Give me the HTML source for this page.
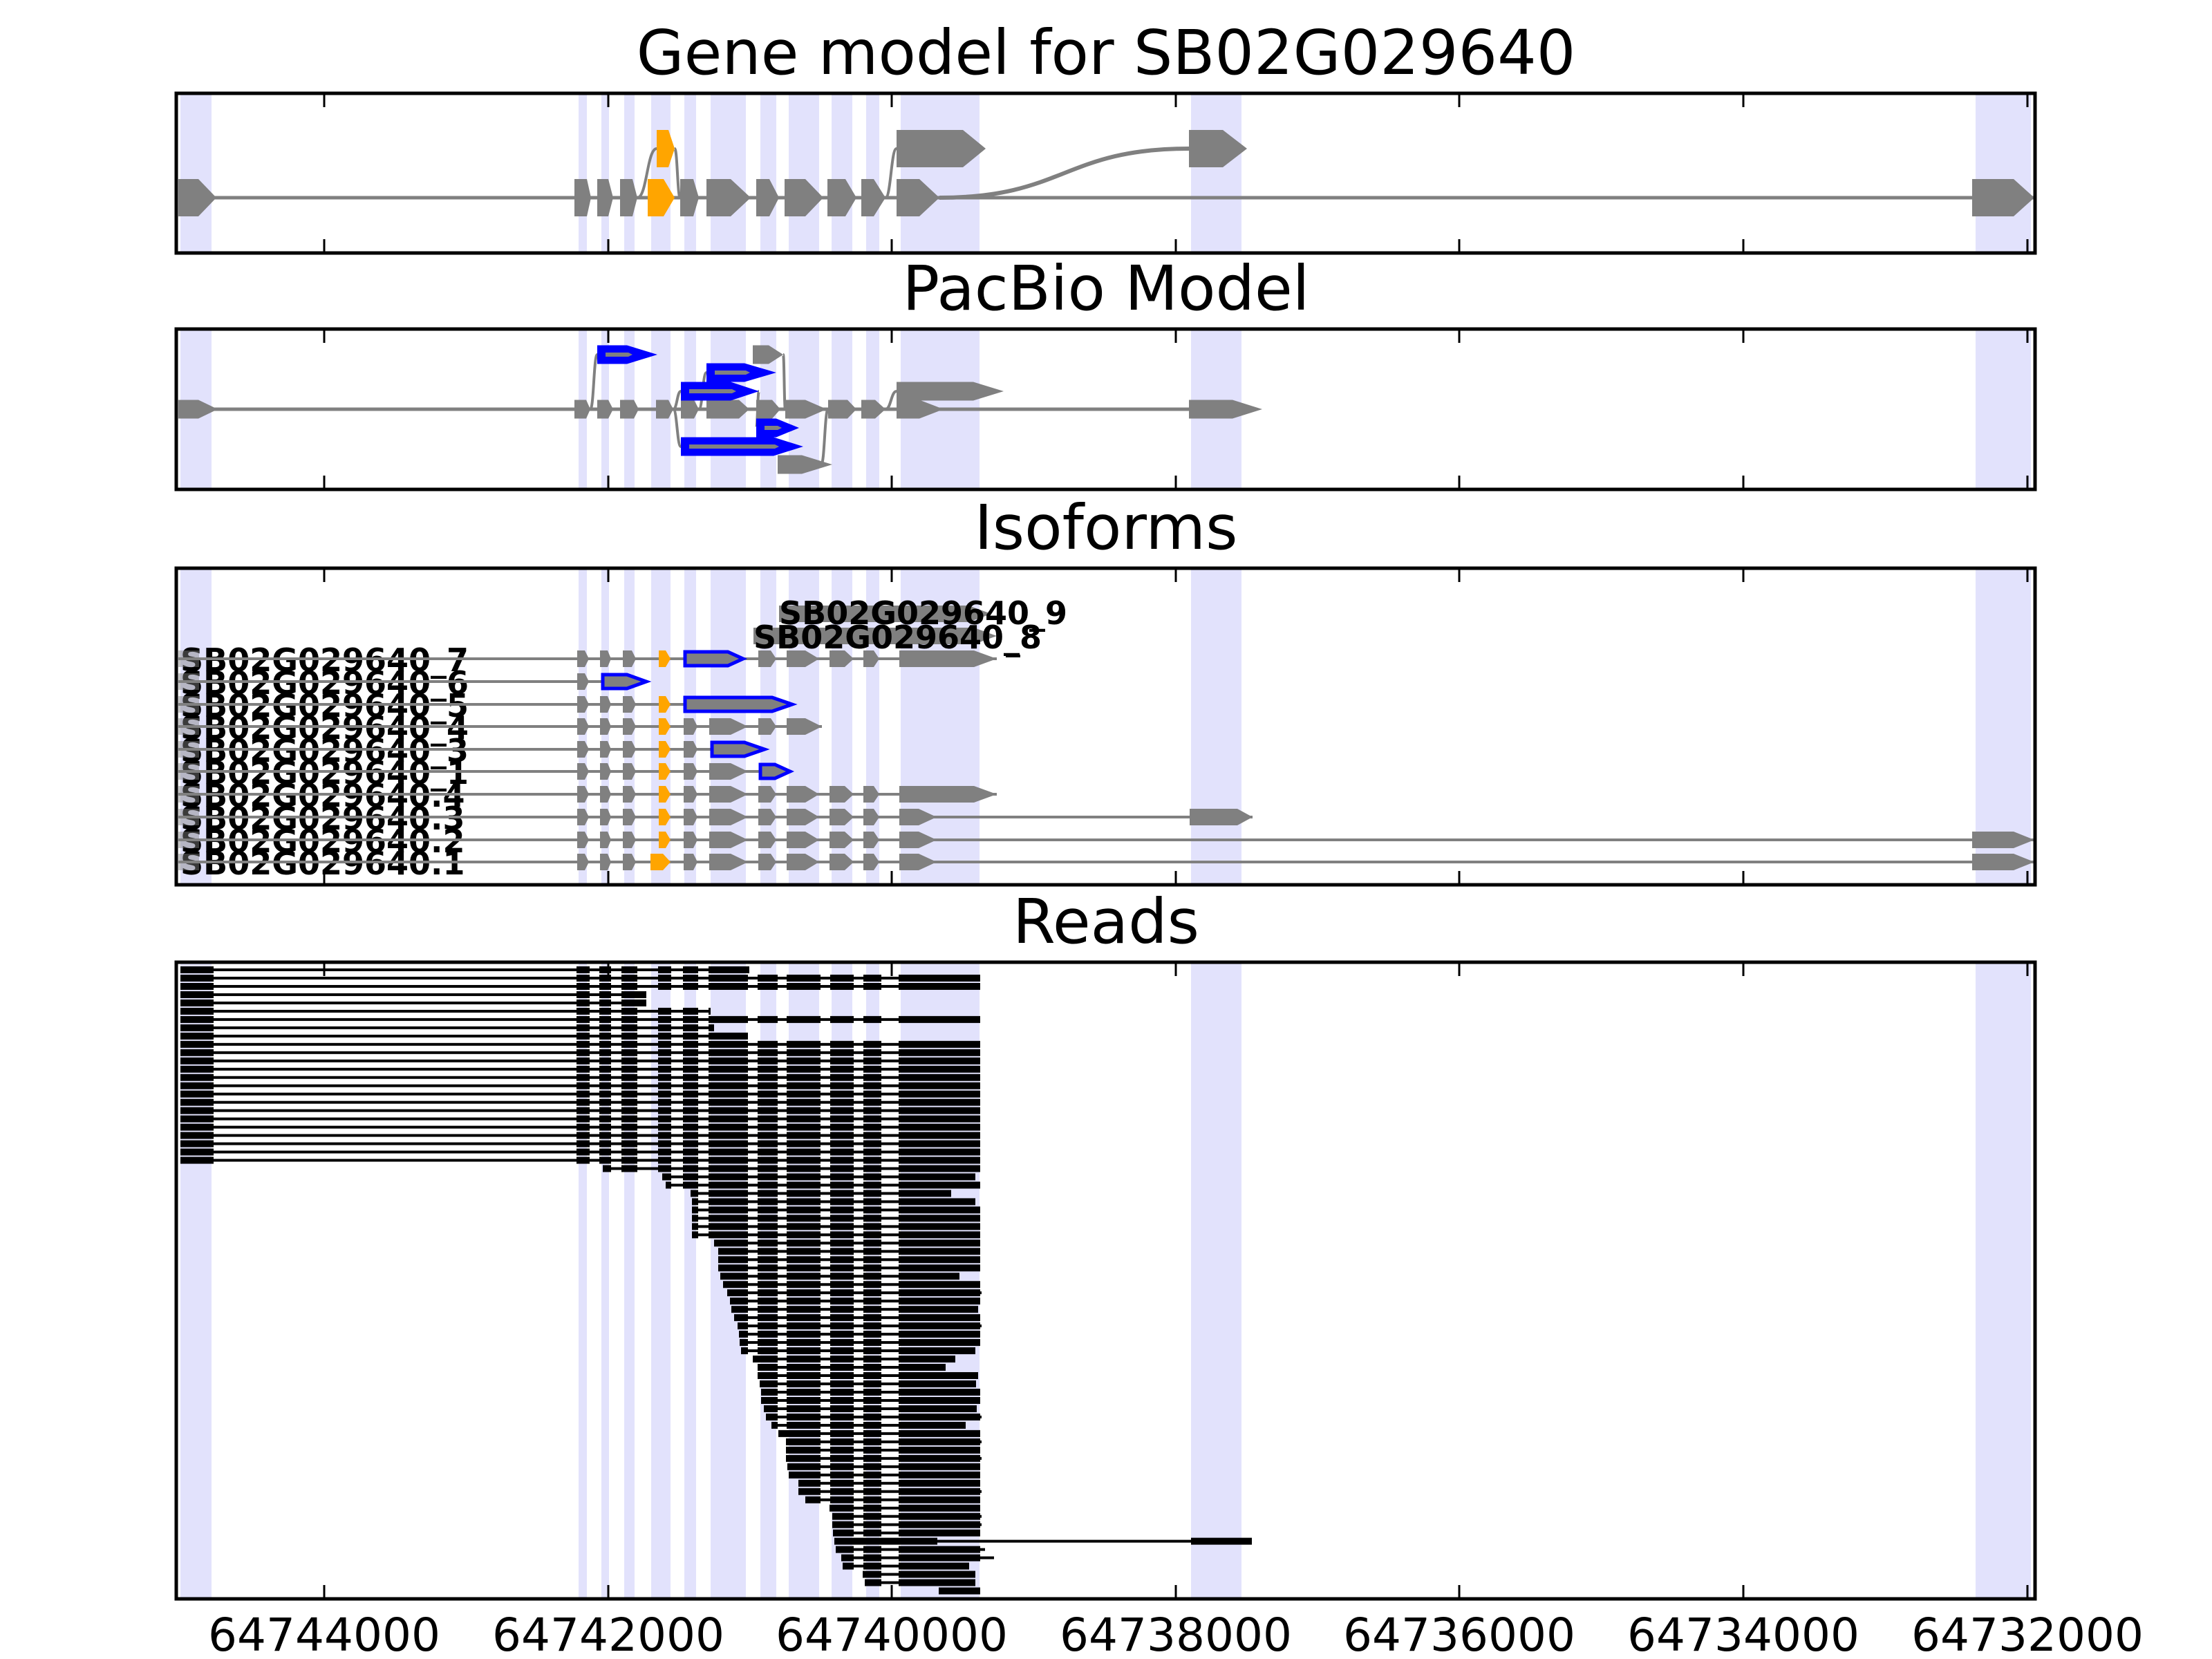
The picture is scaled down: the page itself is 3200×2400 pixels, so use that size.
<!DOCTYPE html>
<html><head><meta charset="utf-8"><style>
html,body{margin:0;padding:0;background:#fff}
svg{display:block}
.t{font-family:"DejaVu Sans","Liberation Sans",sans-serif;font-size:89px;text-anchor:middle;fill:#000}
.tk{font-family:"DejaVu Sans","Liberation Sans",sans-serif;font-size:66px;text-anchor:middle;fill:#000}
.lb{font-family:"DejaVu Sans","Liberation Sans",sans-serif;font-size:46px;font-weight:bold;fill:#000}
</style></head><body>
<svg id="s" xmlns="http://www.w3.org/2000/svg" width="3200" height="2400" viewBox="0 0 3200 2400">
<defs>
<g id="bands" fill="#e2e2fc">
<rect x="261" y="0" width="45" height="1"/>
<rect x="837" y="0" width="12" height="1"/>
<rect x="870" y="0" width="11" height="1"/>
<rect x="903" y="0" width="15" height="1"/>
<rect x="942" y="0" width="28" height="1"/>
<rect x="990" y="0" width="17" height="1"/>
<rect x="1028" y="0" width="51" height="1"/>
<rect x="1100" y="0" width="23" height="1"/>
<rect x="1141" y="0" width="44" height="1"/>
<rect x="1203" y="0" width="30" height="1"/>
<rect x="1253" y="0" width="19" height="1"/>
<rect x="1303" y="0" width="114" height="1"/>
<rect x="1723" y="0" width="73" height="1"/>
<rect x="2858" y="0" width="80" height="1"/>
</g>
</defs>
<rect width="3200" height="2400" fill="#fff"/>
<use href="#bands" transform="translate(0,135) scale(1,231)"/>
<use href="#bands" transform="translate(0,476) scale(1,232)"/>
<use href="#bands" transform="translate(0,822) scale(1,458)"/>
<use href="#bands" transform="translate(0,1392) scale(1,921)"/>

<text class="t" x="1600" y="107">Gene model for SB02G029640</text>
<text class="t" x="1600" y="448">PacBio Model</text>
<text class="t" x="1600" y="794">Isoforms</text>
<text class="t" x="1600" y="1364">Reads</text>

<g id="p1"></g>
<g id="p2"></g>
<g id="p3">
<text class="lb" x="1127" y="903">SB02G029640_9</text>
<text class="lb" x="1090" y="938">SB02G029640_8</text>
<text class="lb" x="261" y="971">SB02G029640_7</text>
<text class="lb" x="261" y="1004">SB02G029640_6</text>
<text class="lb" x="261" y="1037">SB02G029640_5</text>
<text class="lb" x="261" y="1069">SB02G029640_4</text>
<text class="lb" x="261" y="1102">SB02G029640_3</text>
<text class="lb" x="261" y="1134">SB02G029640_1</text>
<text class="lb" x="261" y="1167">SB02G029640.4</text>
<text class="lb" x="261" y="1200">SB02G029640.3</text>
<text class="lb" x="261" y="1233">SB02G029640.2</text>
<text class="lb" x="261" y="1265">SB02G029640.1</text>
</g>
<g id="p4"></g>
<g id="frames" fill="none" stroke="#000" stroke-width="5">
<rect x="255" y="135" width="2689" height="231"/>
<rect x="255" y="476" width="2689" height="232"/>
<rect x="255" y="822" width="2689" height="458"/>
<rect x="255" y="1392" width="2689" height="921"/>
</g>
<g id="ticks" stroke="#000" stroke-width="3"></g>
<text class="tk" x="469" y="2388">64744000</text>
<text class="tk" x="880" y="2388">64742000</text>
<text class="tk" x="1290" y="2388">64740000</text>
<text class="tk" x="1701" y="2388">64738000</text>
<text class="tk" x="2111" y="2388">64736000</text>
<text class="tk" x="2522" y="2388">64734000</text>
<text class="tk" x="2933" y="2388">64732000</text>
</svg>
<script>
(function(){
var NS="http://www.w3.org/2000/svg";
function el(g,n,a){var e=document.createElementNS(NS,n);for(var k in a)e.setAttribute(k,a[k]);g.appendChild(e);return e;}
var G="#808080",O="#ffa500",B="#0000ff";
function pent(g,x1,xr,x2,ym,h,fill,stroke){
 var yt=ym-h,yb=ym+h;
 var a={points:x1+","+yt+" "+xr+","+yt+" "+x2+","+ym+" "+xr+","+yb+" "+x1+","+yb,fill:fill};
 if(stroke){a.stroke=stroke;a["stroke-width"]=5;a["stroke-linejoin"]="miter";}
 el(g,"polygon",a);
}
function line(g,x1,x2,y,w){el(g,"line",{x1:x1,x2:x2,y1:y,y2:y,stroke:G,"stroke-width":w});}
function curve(g,x1,y1,x2,y2,w){var m=(x1+x2)/2;el(g,"path",{d:"M"+x1+","+y1+" C"+m+","+y1+" "+m+","+y2+" "+x2+","+y2,fill:"none",stroke:G,"stroke-width":w||4});}
var p1=document.getElementById("p1");
line(p1,258,2943,286,5);
curve(p1,922,286,950,215);curve(p1,976,215,984,286);
curve(p1,1281,286,1297,215);curve(p1,1359,286,1720,215,6);
[[258,287,313],[831,849,855],[864,880,887],[897,915,922],[984,1003,1011],[1022,1057,1086],[1094,1113,1127],[1135,1165,1191],[1197,1223,1239],[1246,1264,1281],[1297,1330,1359],[2853,2913,2943]].forEach(function(e){pent(p1,e[0],e[1],e[2],286,27,G);});
pent(p1,937,960,976,286,27,O);
pent(p1,950,967,976,215,27,O);
pent(p1,1297,1393,1426,215,27,G);
pent(p1,1720,1769,1804,215,27,G);
var p2=document.getElementById("p2");
line(p2,258,1720,592,5);
[[854,592,864,513],[1133,513,1136,592],[1011,592,1022,539],[974,592,985,566],[974,592,985,646],[1098,566,1094,619],[1188,672,1198,592],[1281,592,1297,566]].forEach(function(c){curve(p2,c[0],c[1],c[2],c[3],4);});
[[258,287,315],[831,848,854],[864,880,887],[897,917,924],[949,967,974],[985,1004,1011],[1022,1069,1084],[1094,1117,1129],[1136,1165,1196],[1198,1226,1239],[1246,1266,1281],[1297,1330,1365],[1720,1783,1826]].forEach(function(e){pent(p2,e[0],e[1],e[2],592,13.5,G);});
pent(p2,1089,1112,1133,513,13.5,G);
pent(p2,1297,1408,1452,566,13.5,G);
pent(p2,1125,1160,1204,672,13.5,G);
[[864,907,951,513],[1022,1077,1123,539],[985,1057,1098,566],[1094,1123,1156,619],[985,1119,1162,646]].forEach(function(e){
 pent(p2,e[0],e[1],e[2],e[3],13.5,B);
 pent(p2,e[0]+12,e[1]+2,e[1]+8,e[3],3,G);
});
var p3=document.getElementById("p3");
var small=[[835,846,852],[868,879,884],[901,914,920]];
var full=[[989,1003,1009],[1026,1057,1082],[1097,1115,1123],[1138,1165,1185],[1200,1222,1235],[1249,1264,1272]];
var tail=[[1097,1115,1123],[1138,1165,1185],[1200,1222,1235],[1249,1264,1272]];
function row(y,end,gray,orange,blue){
 line(p3,258,end,y,4);
 el(p3,"rect",{x:258,y:y-12,width:30,height:24,fill:G,opacity:0.45});
 gray.forEach(function(e){pent(p3,e[0],e[1],e[2],y,12,G);});
 if(orange)pent(p3,orange[0],orange[1],orange[2],y,12,O);
 (blue||[]).forEach(function(e){pent(p3,e[0]+2,e[1],e[2]-2,y,10,G,B);});
}
var OR=[953,963,970];
row(953,1442,small.concat(tail,[[1301,1409,1442]]),OR,[[989,1053,1077]]);
row(986,937,[[835,846,852]],null,[[870,907,937]]);
row(1019,1148,small,OR,[[989,1117,1148]]);
row(1051,1189,small.concat([[989,1003,1009],[1026,1057,1082],[1097,1115,1123],[1138,1165,1189]]),OR);
row(1084,1108,small.concat([[989,1003,1009]]),OR,[[1028,1077,1108]]);
row(1116,1145,small.concat([[989,1003,1009],[1026,1057,1082]]),OR,[[1098,1121,1145]]);
row(1149,1442,small.concat(full,[[1301,1409,1442]]),OR);
row(1182,1812,small.concat(full,[[1301,1329,1355],[1721,1790,1812]]),OR);
row(1215,2943,small.concat(full,[[1301,1329,1355],[2853,2913,2943]]),OR);
row(1247,2943,small.concat(full,[[1301,1329,1355],[2853,2913,2943]]),[941,959,970]);
pent(p3,1127,1401,1434,888,12,G);
pent(p3,1090,1409,1442,920,12,G);
el(p3,"rect",{x:1455,y:947,width:21,height:4,fill:"#000"});
var labs=p3.querySelectorAll("text");p3.appendChild(labs[0]);p3.appendChild(labs[1]);
var p4=document.getElementById("p4");
var EX=[[261,309],[834,853],[867,884],[899,922],[952,971],[988,1010],[1025,1082],[1096,1125],[1138,1187],[1201,1235],[1249,1275],[1300,1418]];
var F=1418,R=[];
function add(s,e){R.push([s,e]);}
add(261,1084);add(261,F);add(261,F);add(261,935);add(261,935);add(261,1028);add(261,F);add(261,1033);add(261,1082);
for(var i=0;i<15;i++)add(261,F);
add(872,F);add(958,1411);add(963,F);add(999,1376);add(1001,1411);
for(i=0;i<4;i++)add(1001,F);
add(1033,F);add(1039,F);add(1039,F);add(1039,F);add(1042,1388);
[[1046,1418],[1052,1420],[1056,1418],[1058,1415],[1062,1418],[1067,1420],[1069,1418],[1070,1418],[1072,1411],[1089,1382],[1096,1368],[1096,1415],[1099,1412],[1101,1418],[1101,1418],[1105,1413],[1108,1420],[1116,1397],[1126,1418],[1137,1420],[1137,1418],[1137,1420],[1139,1418],[1141,1418],[1155,1418],[1155,1420],[1165,1418],[1200,1418],[1204,1420],[1204,1420],[1205,1418],[1207,1356,1],[1209,1425],[1217,1438],[1219,1402],[1248,1411],[1251,1411],[1358,1418]].forEach(function(r){R.push(r);});
function rect(x1,x2,y,h){if(x2>x1)el(p4,"rect",{x:x1,y:y-h/2,width:x2-x1,height:h,fill:"#000"});}
R.forEach(function(r,i){
 var y=1403+11.98*i,s=r[0],e=r[1];
 if(r[2]){rect(s,1811,y,4);rect(s,1356,y,10);rect(1723,1811,y,10);return;}
 rect(s,e,y,4);
 for(var k=0;k<EX.length;k++){
  rect(Math.max(EX[k][0],s),Math.min(EX[k][1],e),y,10);
 }
 for(k=0;k<EX.length-1;k++){
  if(s>EX[k][1]&&s<EX[k+1][0])rect(s,EX[k+1][0],y,10);
  if(e>EX[k][1]&&e<EX[k+1][0])rect(EX[k][1],e,y,10);
 }
});
var tg=document.getElementById("ticks");
var TX=[469,880,1290,1701,2111,2522,2933];
[[135,366],[476,708],[822,1280],[1392,2313]].forEach(function(p){
 TX.forEach(function(x){el(tg,"line",{x1:x,x2:x,y1:p[0],y2:p[0]+20});el(tg,"line",{x1:x,x2:x,y1:p[1]-20,y2:p[1]});});
});
})();
</script>
</body></html>
